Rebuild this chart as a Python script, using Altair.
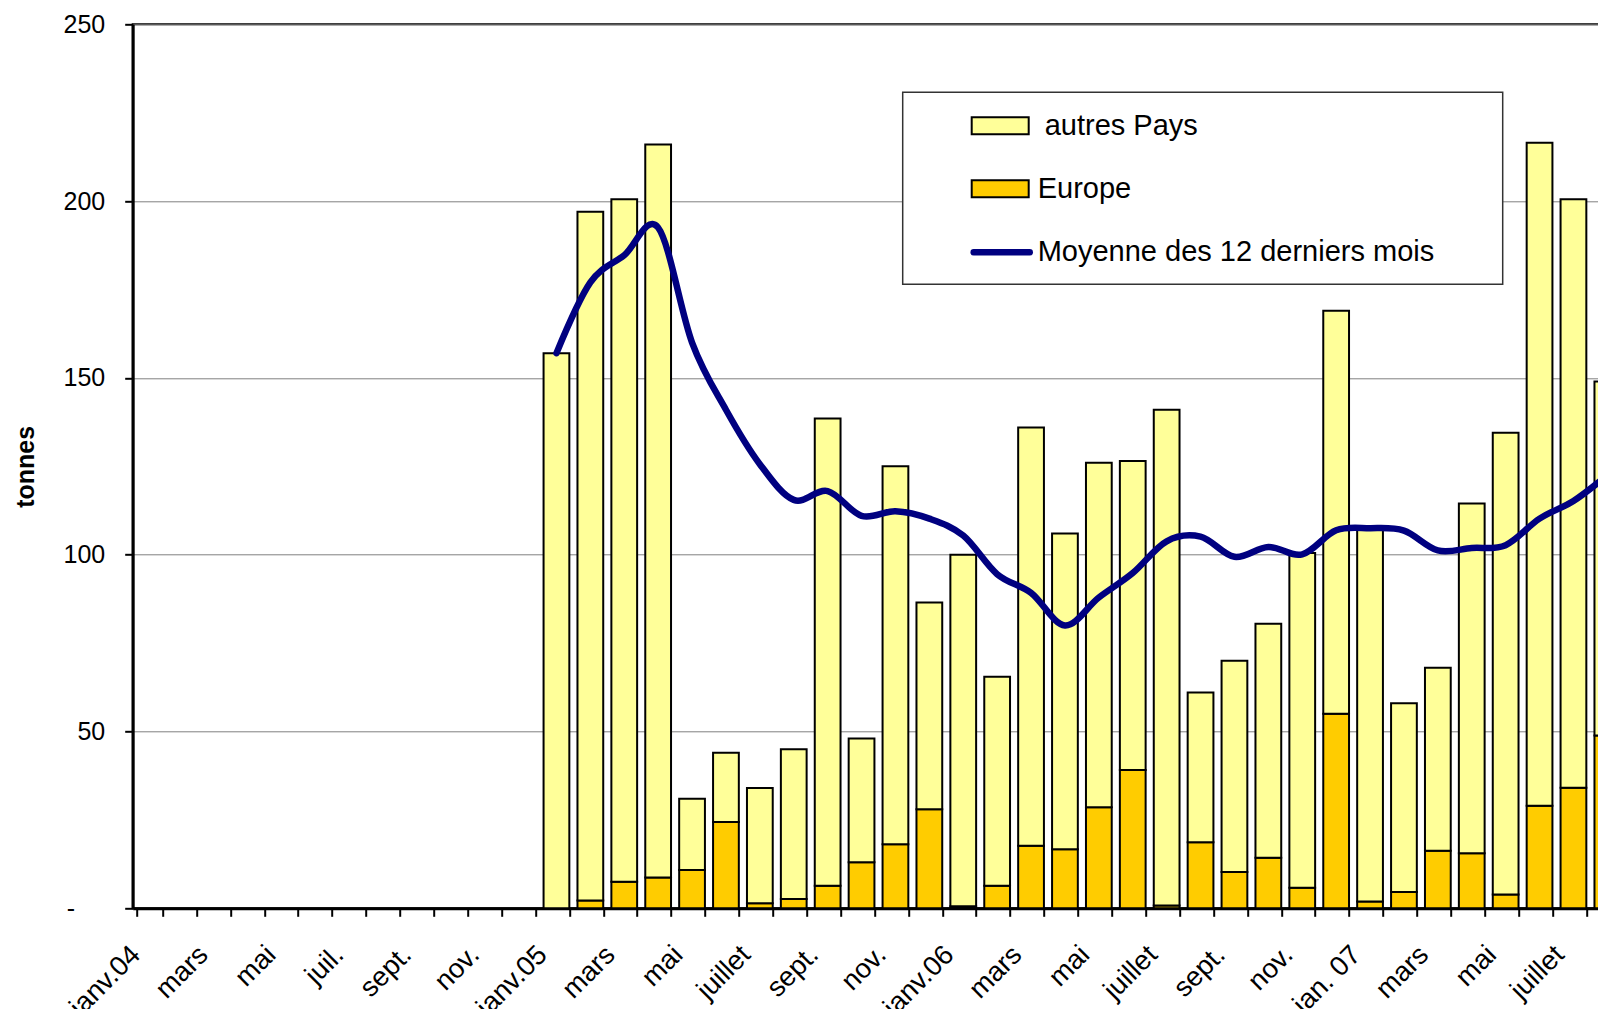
import altair as alt
import pandas as pd

# ---- data ----
mois = [f"{a}-{m:02d}" for a in (2004, 2005, 2006, 2007) for m in range(1, 13)][:44]

etiquettes = ["janv.04", "", "mars", "", "mai", "", "juil.", "", "sept.", "", "nov.", "",
              "janv.05", "", "mars", "", "mai", "", "juillet", "", "sept.", "", "nov.", "",
              "janv.06", "", "mars", "", "mai", "", "juillet", "", "sept.", "", "nov.", "",
              "jan. 07", "", "mars", "", "mai", "", "juillet", ""]

mois_donnees = mois[12:]

europe = [0, 2.2, 7.5, 8.7, 10.8, 24.4, 1.4, 2.6, 6.4, 13, 18.1, 28,
          0.6, 6.4, 17.7, 16.7, 28.6, 39.1, 0.8, 18.7, 10.3, 14.3, 5.8, 55,
          1.9, 4.6, 16.3, 15.6, 3.9, 29, 34.1, 48.9]

autres_pays = [157, 194.8, 193, 207.3, 20.2, 19.6, 32.6, 42.4, 132.1, 35, 106.9, 58.5,
               99.4, 59.1, 118.3, 89.3, 97.4, 87.4, 140.2, 42.3, 59.7, 66.2, 94.7, 114,
               105.6, 53.4, 51.7, 98.9, 130.6, 187.5, 166.4, 100.1]

moyenne_12 = [157, 177, 184.7, 192.5, 160, 141, 125.6, 115.5, 118, 111, 112.3, 110.2,
              105.4, 94.5, 89.2, 80, 87.9, 94.8, 103.8, 105.1, 99.4, 102.2, 100.1, 106.9,
              107.5, 106.8, 101.2, 101.9, 102.7, 110.2, 115.2, 122.5]

series = ["Europe", "autres Pays"]
couleurs = ["#FFCC00", "#FFFF99"]
couleur_ligne = "#000080"
legende = ["autres Pays", "Europe", "Moyenne des 12 derniers mois"]

# ---- tables ----
rows = []
for m, e, a in zip(mois_donnees, europe, autres_pays):
    rows.append({"mois": m, "serie": "Europe", "valeur": e, "ordre": 0})
    rows.append({"mois": m, "serie": "autres Pays", "valeur": a, "ordre": 1})
bars_df = pd.DataFrame(rows)
line_df = pd.DataFrame({"mois": mois_donnees, "moyenne": moyenne_12})
dummy = pd.DataFrame({"k": [0]})

FONT = "Liberation Sans"

keys_js = "[" + ",".join(f"'{k}'" for k in mois) + "]"
labs_js = "[" + ",".join(f"'{l}'" for l in etiquettes) + "]"
x_label_expr = f"{labs_js}[indexof({keys_js}, datum.value)]"

x_enc = alt.X(
    "mois:N",
    sort=mois,
    scale=alt.Scale(domain=mois, paddingInner=0.24, paddingOuter=0.12),
    axis=alt.Axis(
        title=None,
        labelExpr=x_label_expr,
        labelAngle=-45,
        labelAlign="right",
        labelBaseline="middle",
        labelPadding=34,
        labelOffset=-14,
        labelFont=FONT,
        labelFontSize=27.5,
        labelColor="black",
        labelOverlap=False,
        labelBound=False,
        tickBand="extent",
        ticks=True,
        tickSize=8,
        tickColor="black",
        tickWidth=2,
        domainColor="black",
        domainWidth=3,
        grid=False,
    ),
)

y_scale = alt.Scale(domain=[0, 250], nice=False)
y_axis = alt.Axis(
    title="tonnes",
    titleFont=FONT,
    titleFontSize=25,
    titleFontWeight="bold",
    titleColor="black",
    titleAngle=-90,
    titleX=-107,
    titleY=442,
    titleAlign="center",
    titleBaseline="middle",
    values=[0, 50, 100, 150, 200, 250],
    labelExpr="datum.value == 0 ? '-' : datum.label",
    labelFont=FONT,
    labelFontSize=25,
    labelColor="black",
    labelPadding={"condition": {"test": "datum.value == 0", "value": 50}, "value": 20},
    tickSize=8,
    tickColor="black",
    tickWidth=2,
    domainColor="black",
    domainWidth=3,
    grid=True,
    gridColor="#808080",
    gridWidth=1,
)

bars = alt.Chart(bars_df).mark_bar(stroke="black", strokeWidth=2).encode(
    x=x_enc,
    y=alt.Y("valeur:Q", stack="zero", scale=y_scale, axis=y_axis),
    color=alt.Color("serie:N", scale=alt.Scale(domain=series, range=couleurs), legend=None),
    order=alt.Order("ordre:Q", sort="ascending"),
)

line = alt.Chart(line_df).mark_line(
    color=couleur_ligne, strokeWidth=6.5, interpolate="cardinal", strokeCap="round", strokeJoin="round"
).encode(
    x=alt.X("mois:N", sort=mois),
    y=alt.Y("moyenne:Q"),
)

# ---- legend box (drawn in plot pixel coordinates) ----
box = alt.Chart(dummy).mark_rect(fill="white", stroke="#333333", strokeWidth=1.5).encode(
    x=alt.value(770), x2=alt.value(1370), y=alt.value(68), y2=alt.value(260)
)
sw1 = alt.Chart(dummy).mark_rect(fill=couleurs[1], stroke="black", strokeWidth=2).encode(
    x=alt.value(839), x2=alt.value(896), y=alt.value(93), y2=alt.value(110)
)
sw2 = alt.Chart(dummy).mark_rect(fill=couleurs[0], stroke="black", strokeWidth=2).encode(
    x=alt.value(839), x2=alt.value(896), y=alt.value(156), y2=alt.value(173)
)
sw3 = alt.Chart(dummy).mark_rule(color=couleur_ligne, strokeWidth=6.5, strokeCap="round").encode(
    x=alt.value(841), x2=alt.value(897), y=alt.value(228)
)
t1 = alt.Chart(dummy).mark_text(align="left", baseline="middle", font=FONT, fontSize=29, color="black").encode(
    x=alt.value(912), y=alt.value(102), text=alt.value(legende[0])
)
t2 = alt.Chart(dummy).mark_text(align="left", baseline="middle", font=FONT, fontSize=29, color="black").encode(
    x=alt.value(905), y=alt.value(165), text=alt.value(legende[1])
)
t3 = alt.Chart(dummy).mark_text(align="left", baseline="middle", font=FONT, fontSize=29, color="black").encode(
    x=alt.value(905), y=alt.value(228), text=alt.value(legende[2])
)

chart = alt.layer(bars, line, box, sw1, sw2, sw3, t1, t2, t3).properties(
    width=1491.6,
    height=884,
    autosize=alt.AutoSizeParams(type="none"),
    padding={"left": 124.7, "top": 16.3, "right": -26.3, "bottom": 100.7},
    background="white",
).configure_view(stroke="black", strokeWidth=2)

chart.save("out.html", embed_options={"renderer": "svg", "actions": False})
